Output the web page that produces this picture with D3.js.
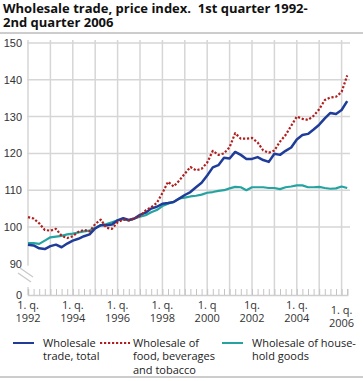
<!DOCTYPE html>
<meta charset="utf-8">
<html>
<head>
  <style>
    body { margin: 0; background: #fff; }
    svg { display: block; font-family: "Open Sans", sans-serif; }
    .title { font-weight: bold; font-size: 13px; fill: #111; }
    .tick-label { font-size: 11px; fill: #333; }
    .legend text { font-size: 11px; fill: #222; }
    .grid line { stroke: #d6d6d6; stroke-width: 1.5; }
  </style>
</head>
<body>
<svg width="363" height="381"></svg>
<script src="https://d3js.org/d3.v7.min.js"></script>
<script>
  // quarters 1992Q1 .. 2006Q2
  const periods = [
    "1992Q1","1992Q2","1992Q3","1992Q4","1993Q1","1993Q2","1993Q3","1993Q4",
    "1994Q1","1994Q2","1994Q3","1994Q4","1995Q1","1995Q2","1995Q3","1995Q4",
    "1996Q1","1996Q2","1996Q3","1996Q4","1997Q1","1997Q2","1997Q3","1997Q4",
    "1998Q1","1998Q2","1998Q3","1998Q4","1999Q1","1999Q2","1999Q3","1999Q4",
    "2000Q1","2000Q2","2000Q3","2000Q4","2001Q1","2001Q2","2001Q3","2001Q4",
    "2002Q1","2002Q2","2002Q3","2002Q4","2003Q1","2003Q2","2003Q3","2003Q4",
    "2004Q1","2004Q2","2004Q3","2004Q4","2005Q1","2005Q2","2005Q3","2005Q4",
    "2006Q1","2006Q2"
  ];

  const total = [
    95.2, 95.0, 94.2, 94.0, 94.8, 95.2, 94.5, 95.5,
    96.3, 96.8, 97.5, 98.0, 99.6, 100.5, 100.5, 100.7,
    101.8, 102.4, 101.9, 102.3, 103.3, 103.9, 105.0, 105.5,
    106.3, 106.5, 106.8, 107.7, 108.7, 109.5, 110.8, 112.0,
    114.0, 116.2, 116.8, 118.8, 118.6, 120.4, 119.6, 118.5,
    118.5, 119.0, 118.2, 117.7, 119.9, 119.6, 120.7, 121.6,
    123.8, 125.0, 125.3, 126.5, 127.8, 129.5, 131.0, 130.7,
    131.8, 134.2
  ];

  const food = [
    102.7, 102.3, 101.0, 99.2, 99.0, 99.5, 97.6, 97.0,
    97.5, 98.7, 99.2, 98.8, 100.8, 102.0, 99.8, 99.5,
    101.3, 102.0, 101.8, 102.3, 103.0, 104.5, 105.4, 106.5,
    109.2, 112.3, 111.0, 112.6, 114.5, 116.3, 115.4, 115.8,
    117.5, 120.7, 119.6, 120.0, 121.7, 125.5, 124.0, 124.0,
    124.2, 123.0, 120.8, 120.2, 120.8, 123.2, 125.0, 127.5,
    130.0, 129.4, 129.1, 130.2, 132.0, 134.5, 135.2, 135.4,
    136.7, 141.2
  ];

  const household = [
    95.6, 95.6, 95.4, 96.3, 97.2, 97.4, 97.6, 98.0,
    98.2, 98.5, 98.8, 99.0, 99.8, 100.5, 100.8, 101.3,
    101.8, 102.1, 101.8, 102.3, 102.8, 103.2, 104.0, 104.6,
    105.7, 106.3, 106.8, 107.8, 108.0, 108.3, 108.5, 108.8,
    109.3, 109.5, 109.8, 110.0, 110.5, 110.9, 110.8, 110.0,
    110.8, 110.8, 110.8, 110.6, 110.6, 110.3, 110.8, 111.0,
    111.3, 111.3, 110.8, 110.8, 110.9, 110.6, 110.4, 110.5,
    111.0, 110.6
  ];

  const yTicks = [0, 90, 100, 110, 120, 130, 140, 150];
  const xLabels = [
    { year: 1992, lines: ["1. q.", "1992"] },
    { year: 1994, lines: ["1. q.", "1994"] },
    { year: 1996, lines: ["1. q.", "1996"] },
    { year: 1998, lines: ["1. q.", "1998"] },
    { year: 2000, lines: ["1. q", "2000"] },
    { year: 2002, lines: ["1q.", "2002"] },
    { year: 2004, lines: ["1. q.", "2004"] },
    { year: 2006, lines: ["1. q.", "2006"] }
  ];
  const series = [
    { name: ["Wholesale", "trade, total"], values: total, color: "#1f3c99", width: 2.5, dash: null },
    { name: ["Wholesale of", "food, beverages", "and tobacco"], values: food, color: "#b01e1e", width: 2.2, dash: "2.2,1.8" },
    { name: ["Wholesale of house-", "hold goods"], values: household, color: "#24a3a0", width: 2.2, dash: null }
  ];

  const svg = d3.select("svg");
  const W = 363;

  // position of a period on a continuous time axis
  const t = p => +p.slice(0, 4) + (+p.slice(5) - 1) / 4;

  const x = d3.scaleLinear().domain([1992, 2006.25]).range([28, 347.2]);
  // broken axis: 0 sits just below 90
  const y = d3.scaleLinear().domain([0, 90, 150]).range([295, 263.8, 43]);

  // title
  const title = svg.append("text").attr("class", "title");
  title.append("tspan").attr("x", 3).attr("y", 13).text("Wholesale trade, price index.\u00a0\u00a01st quarter 1992-");
  title.append("tspan").attr("x", 3).attr("y", 26.5).text("2nd quarter 2006");
  svg.append("line").attr("x1", 0).attr("x2", W).attr("y1", 33).attr("y2", 33)
    .attr("stroke", "#9a9a9a").attr("stroke-width", 1);

  // grid
  const grid = svg.append("g").attr("class", "grid");
  grid.selectAll(".h").data(yTicks.filter(v => v >= 100)).enter().append("line")
    .attr("x1", 27).attr("x2", 350)
    .attr("y1", d => y(d)).attr("y2", d => y(d));
  grid.selectAll(".v").data(d3.range(1993, 2007)).enter().append("line")
    .attr("x1", d => x(d)).attr("x2", d => x(d))
    .attr("y1", 40).attr("y2", y(0));
  // y axis line with gap at the break
  grid.append("line").attr("x1", x(1992)).attr("x2", x(1992)).attr("y1", 40).attr("y2", y(90) + 2);
  grid.append("line").attr("x1", x(1992)).attr("x2", x(1992)).attr("y1", y(0) - 8).attr("y2", y(0));

  // break marks
  const brk = svg.append("g").attr("stroke", "#c8c8c8").attr("stroke-width", 1.2);
  brk.append("line").attr("x1", 20).attr("y1", 268).attr("x2", 33).attr("y2", 277);
  brk.append("line").attr("x1", 18).attr("y1", 273).attr("x2", 31).attr("y2", 282);

  // bottom axis with quarter ticks
  const quarterTicks = periods.map(t);
  const xAxis = d3.axisBottom(x).tickValues(quarterTicks).tickSize(-6).tickFormat("");
  const gx = svg.append("g").attr("transform", `translate(0,${y(0)})`).call(xAxis);
  gx.select(".domain").attr("stroke", "#cfcfcf").attr("stroke-width", 1.5);
  gx.selectAll(".tick line").attr("stroke", "#c4c4c4");

  // y axis labels
  const yAxis = d3.axisLeft(y).tickValues(yTicks).tickSize(0).tickPadding(0);
  const gy = svg.append("g").attr("transform", "translate(22,0)").call(yAxis);
  gy.select(".domain").remove();
  gy.selectAll(".tick text").attr("class", "tick-label").attr("font-family", null).attr("font-size", null);

  // x labels
  const xl = svg.append("g").selectAll("text").data(xLabels).enter().append("text")
    .attr("class", "tick-label").attr("text-anchor", "middle");
  xl.each(function (d) {
    const dy = d.year === 2006 ? 5 : 0;
    d3.select(this).selectAll("tspan").data(d.lines).enter().append("tspan")
      .attr("x", x(d.year)).attr("y", (l, i) => 309 + dy + i * 13).text(l => l);
  });

  // lines
  const line = d3.line().x((v, i) => x(t(periods[i]))).y(v => y(v)).curve(d3.curveLinear);
  const order = [series[2], series[0], series[1]];
  svg.append("g").selectAll("path").data(order).enter().append("path")
    .attr("fill", "none")
    .attr("stroke", d => d.color)
    .attr("stroke-width", d => d.width)
    .attr("stroke-dasharray", d => d.dash)
    .attr("stroke-linejoin", "round")
    .attr("d", d => line(d.values));

  // legend
  const legX = [13, 100, 222];
  const leg = svg.append("g").attr("class", "legend").selectAll("g").data(series).enter().append("g")
    .attr("transform", (d, i) => `translate(${legX[i]},0)`);
  leg.append("line").attr("x1", 0).attr("x2", d => d.dash ? 30 : 21).attr("y1", 343).attr("y2", 343)
    .attr("stroke", d => d.color).attr("stroke-width", 2)
    .attr("stroke-dasharray", d => d.dash);
  leg.append("text").each(function (d, i) {
    d3.select(this).selectAll("tspan").data(d.name).enter().append("tspan")
      .attr("x", i === 1 ? 33 : 30).attr("y", (l, j) => 347 + j * 13.3).text(l => l);
  });

  svg.append("line").attr("x1", 0).attr("x2", W).attr("y1", 377).attr("y2", 377)
    .attr("stroke", "#9a9a9a").attr("stroke-width", 1);
</script>
</body>
</html>
